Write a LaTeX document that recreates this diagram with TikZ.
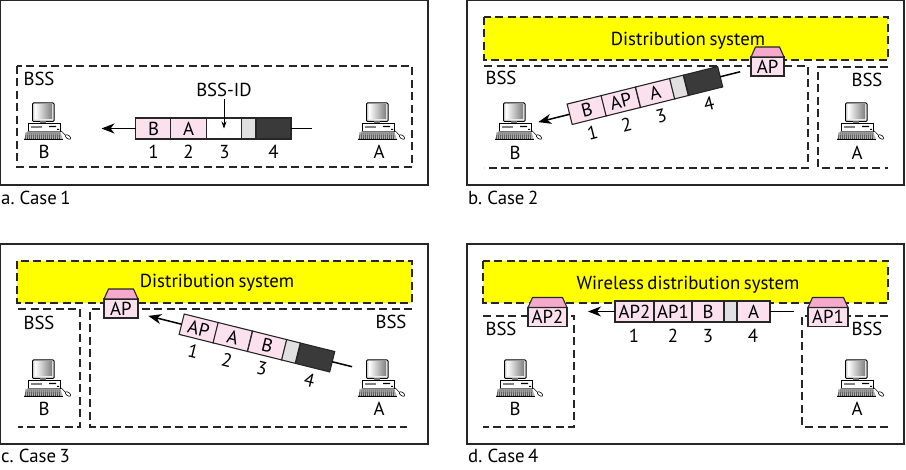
\documentclass[tikz,border=0pt]{standalone}
\usepackage{fontspec}
\setmainfont[WordSpace=0.7]{PT Sans}
\usetikzlibrary{calc}
\usetikzlibrary{arrows.meta}
\definecolor{cellpink}{HTML}{FBE0EE}
\definecolor{roofpink}{HTML}{F6A9CC}
\definecolor{cellgray}{HTML}{E0E0E0}
\definecolor{celldark}{HTML}{3A3A3A}
\definecolor{dsyellow}{HTML}{FFFF00}
\tikzset{
  panel/.style={draw=black!85,line width=1.3pt},
  bssline/.style={draw=black!85,line width=1.05pt,dash pattern=on 8pt off 4.5pt},
  dsbox/.style={bssline,fill=dsyellow},
  txt/.style={font=\fontsize{18.8}{20}\selectfont,inner sep=0pt},
  cell/.style={draw=black!85,line width=1.1pt,minimum height=21pt,inner sep=0pt,outer sep=0pt,txt},
  apbody/.style={draw=black!85,line width=1.1pt,fill=cellpink,minimum height=19pt,inner sep=0pt,outer sep=0pt,txt},
  aproof/.style={draw=black!85,line width=1.1pt,fill=roofpink,line join=round},
  wire/.style={line width=1.5pt,-{Stealth[length=13pt,width=10pt,inset=4pt]}},
  tail/.style={line width=1.5pt},
  computer/.pic={
    % monitor
    \draw[line width=1pt,fill=black!8,rounded corners=1pt] (0.5,0) rectangle (22,18.5);
    \shade[left color=white,right color=black!50] (3,2) rectangle (20,16);
    \fill[black!55] (8,18.5) rectangle (14,20.5);
    % box
    \draw[line width=0.8pt,fill=white] (-4,20.5) rectangle (28,28);
    \fill[black!50] (-1,23) rectangle (10,25);
    \fill[black] (17,23) rectangle (24,24.2) (25,26) rectangle (27,27);
    % keyboard
    \fill[black!30] (-5,28.5) -- (28,28.5) -- (31,36.5) -- (-8,36.5) -- cycle;
    \foreach \k in {-6,-4,...,28}
      \draw[line width=0.6pt,black!80] (\k,29.5) -- (\k-0.5,36);
    \draw[line width=0.9pt,black] (-8,36.8) -- (31,36.8);
    % mouse
    \draw[line width=0.5pt] (28,27) .. controls (31,28) and (31,31) .. (33,32);
    \draw[line width=0.6pt,fill=white,rotate around={-35:(36,34)}] (36,34) ellipse (3.2 and 1.7);
  }
}
\begin{document}
\begin{tikzpicture}[x=1pt,y=-1pt,>=Stealth]
\useasboundingbox (0,0) rectangle (906,470);

% frames round the four cases
\foreach \xa/\ya/\xb/\yb in {0.7/0.7/428/185, 467/0.7/904/185, 0.7/244/428/444, 467/244/904/444}
  \draw[panel] (\xa,\ya) rectangle (\xb,\yb);

% yellow boxes
\draw[dsbox] (484,17) rectangle (888,60);
\draw[dsbox] (17,261) rectangle (412,303);
\draw[dsbox] (483,261) rectangle (888,303);

% dashed BSS lines
\draw[bssline] (17,66) rectangle (412,167);
\draw[bssline] (484,66) -- (808,66) -- (808,168) -- (484,168);
\draw[bssline] (888,67) -- (818,67) -- (818,168) -- (888,168);
\draw[bssline] (18,309) -- (80,309) -- (80,427) -- (18,427);
\draw[bssline] (412,309) -- (90,309) -- (90,427) -- (407,427);
\draw[bssline] (483,316) -- (574,316) -- (574,427) -- (483,427);
\draw[bssline] (888,316) -- (802,316) -- (802,427) -- (888,427);

% computers
\foreach \x/\y [count=\i] in {32/103,366/103,503/103,845/103,32/360,366/360,504/360,845/360}
  \pic (comp-\i) at (\x,\y) {computer};

% labels
\foreach \x/\y/\l [count=\i] in {39/79/BSS,501/78/BSS,867/80/BSS,39/323/BSS,391/322/BSS,501/329/BSS,867/329/BSS,
  44/152/B,379/152/A,515/153/B,857/153/A,44/409/B,379/409/A,515/409/B,857/409/A,
  224/90/BSS-ID,688/41/Distribution system,217/283/Distribution system,688/285/Wireless distribution system}
  \node[txt] (label-\i) at (\x,\y) {\l};

\foreach \x/\y/\l [count=\i] in {1/205/a. Case 1,468/205/b. Case 2,1/463/c. Case 3,468/463/d. Case 4}
  \node[txt,anchor=base west] (case-\i) at (\x,\y) {\l};

% case 1
\begin{scope}[shift={(213.5,128.5)},transform shape]
\foreach \x/\w/\l/\c [count=\i] in {-60/35.3/B/cellpink,-25/35.3/A/cellpink,10.5/35.3//white,35/14/{}/cellgray,60/35/{}/celldark}
  \node[cell,minimum width=\w pt,fill=\c] (cella-\i) at (\x,0) {\l};
\foreach \x/\l [count=\i] in {-60/1,-25/2,11/3,60/4}
  \node[txt] (numa-\i) at (\x,23.5) {\l};
\coordinate (tipa) at (-112,0);
\coordinate (enda) at (98,0);
\end{scope}
\draw[wire] (cella-1.west) -- (tipa);
\draw[tail] (cella-5.east) -- (enda);
\draw[line width=0.8pt,-{Stealth[length=7pt,width=5pt]}] (label-16.south) ++(0,2) -- (cella-3.center);

% case 2
\begin{scope}[shift={(645,95.5)},rotate=14,transform shape]
\foreach \x/\w/\l/\c [count=\i] in {-60/35.3/B/cellpink,-25/35.3/AP/cellpink,10.5/35.3/A/cellpink,35/14/{}/cellgray,60/35/{}/celldark}
  \node[cell,minimum width=\w pt,fill=\c] (cellb-\i) at (\x,0) {\l};
\foreach \x/\l [count=\i] in {-60/1,-25/2,11/3,60/4}
  \node[txt] (numb-\i) at (\x,23.5) {\l};
\coordinate (tipb) at (-110,0);
\coordinate (endb) at (98,0);
\end{scope}
\draw[wire] (cellb-1.west) -- (tipb);
\draw[tail] (cellb-5.east) -- (endb);

% case 3
\begin{scope}[shift={(257,343)},rotate=-14,transform shape]
\foreach \x/\w/\l/\c [count=\i] in {-60/35.3/AP/cellpink,-25/35.3/A/cellpink,10.5/35.3/B/cellpink,35/14/{}/cellgray,60/35/{}/celldark}
  \node[cell,minimum width=\w pt,fill=\c] (cellc-\i) at (\x,0) {\l};
\foreach \x/\l [count=\i] in {-60/1,-25/2,11/3,60/4}
  \node[txt] (numc-\i) at (\x,23.5) {\l};
\coordinate (tipc) at (-112,0);
\coordinate (endc) at (98,0);
\end{scope}
\draw[wire] (cellc-1.west) -- (tipc);
\draw[tail] (cellc-5.east) -- (endc);

% case 4
\foreach \x/\w/\l/\c [count=\i] in {634.5/39/AP2/cellpink,673/38/AP1/cellpink,708/32/B/cellpink,730.5/13/{}/cellgray,753.5/33/A/cellpink}
  \node[cell,minimum width=\w pt,fill=\c] (celld-\i) at (\x,311.5) {\l};
\foreach \x/\l [count=\i] in {634/1,673/2,708/3,753/4}
  \node[txt] (numd-\i) at (\x,336) {\l};
\coordinate (tipd) at (588,311.5);
\coordinate (endd) at (794,311.5);
\draw[wire] (celld-1.west) -- (tipd);
\draw[tail] (celld-5.east) -- (endd);

% access points
\foreach \x/\y/\w/\l [count=\i] in {767.5/66.5/33/AP,121/308.5/34/AP,547.5/317/39/AP2,828/317/40/AP1}{
  \node[apbody,minimum width=\w pt] (ap-\i) at (\x,\y) {\l};
  \draw[aproof] (ap-\i.north west) -- ++(4.5,-10) -- ($(ap-\i.north east)+(-4.5,-10)$) -- (ap-\i.north east) -- cycle;
}

\end{tikzpicture}
\end{document}
